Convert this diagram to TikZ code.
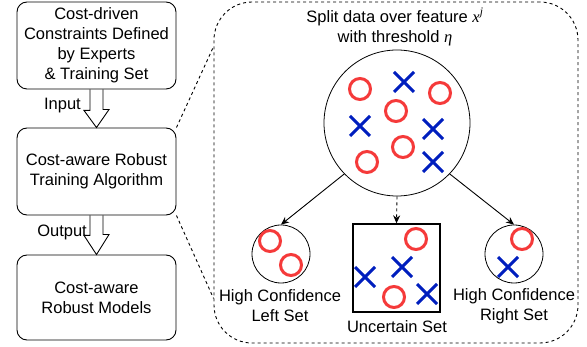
\documentclass[tikz,border=0pt]{standalone}
\usepackage{fontspec}
\setmainfont{Liberation Sans}
\newfontfamily\tserif{Liberation Serif}
\usetikzlibrary{arrows.meta}
\definecolor{mred}{RGB}{245,58,58}
\definecolor{mblue}{RGB}{0,30,190}
\tikzset{
  txt/.style={font=\fontsize{16.5}{20}\selectfont, align=center, inner sep=0pt},
  lbox/.style={draw, rounded corners=10pt, line width=0.9pt, minimum width=159pt, inner sep=0pt, txt},
  hollow/.style={draw, line width=0.9pt, line join=miter},
  zdash/.style={draw, line width=0.9pt, dash pattern=on 3pt off 3pt},
  arr/.style={line width=0.9pt, -{Stealth[length=8pt,width=7pt]}},
  ro/.pic={\draw[mred, line width=3pt] (0,0) circle (10.5pt);},
  bx/.pic={\draw[mblue, line width=3pt] (-10,-10) -- (10,10) (-10,10) -- (10,-10);},
}
\begin{document}
\begin{tikzpicture}[x=1pt,y=-1pt]
\useasboundingbox (0,0) rectangle (587,347);
% left column
\node[lbox, minimum height=87pt] (b1) at (96.5,45.5) {Cost-driven\\Constraints Defined\\by Experts\\\& Training Set};
\node[lbox, minimum height=87pt] (b2) at (96.5,171.5) {Cost-aware Robust\\Training Algorithm};
\node[lbox, minimum height=85pt] (b3) at (96.5,297.5) {Cost-aware\\Robust Models};
% hollow arrows
\draw[hollow] ([xshift=-6.5pt]b1.south) -- ++(0,21) -- ++(-6,0) -- (b2.north) -- ++(12.5,-18) -- ++(-6,0) -- ([xshift=6.5pt]b1.south);
\draw[hollow] ([xshift=-6.5pt]b2.south) -- ++(0,20) -- ++(-6,0) -- (b3.north) -- ++(12.5,-20) -- ++(-6,0) -- ([xshift=6.5pt]b2.south);
\node[txt, anchor=east] (lin) at (81,106) {Input};
\node[txt, anchor=east] (lout) at (87,232) {Output};
% zoom box
\node[zdash, rounded corners=38pt, minimum width=364pt, minimum height=341pt, inner sep=0pt] (zoom) at (396,172.5) {};
\draw[zdash] (b2.north east) -- ([yshift=-45pt]zoom.north west);
\draw[zdash] (b2.south east) -- ([yshift=45pt]zoom.south west);
\node[txt] (title) at (395,27) {Split data over feature {\tserif\itshape x\textsuperscript{j}}\\with threshold {\tserif\itshape η}};
% big circle
\node[draw, circle, line width=0.8pt, minimum size=146pt, inner sep=0pt] (big) at (397,123) {};
\pic at (360,89) {ro};
\pic at (404,82) {bx};
\pic at (440,93) {ro};
\pic at (396,111) {ro};
\pic at (360,126) {bx};
\pic at (433,129) {bx};
\pic at (403,147) {ro};
\pic at (367,162) {ro};
\pic at (433,162) {bx};
% children
\node[draw, circle, line width=0.8pt, minimum size=58pt, inner sep=0pt] (left) at (281,254) {};
\pic at (270,241) {ro};
\pic at (291,265) {ro};
\node[draw, line width=1.3pt, minimum width=87pt, minimum height=88pt, inner sep=0pt] (unc) at (396.5,268) {};
\pic at (416,239) {ro};
\pic at (402,267) {bx};
\pic at (365,277) {bx};
\pic at (394,297) {ro};
\pic at (427,294) {bx};
\node[draw, circle, line width=0.8pt, minimum size=58pt, inner sep=0pt] (right) at (514,254) {};
\pic at (522,239) {ro};
\pic at (508,267) {bx};
% arrows
\draw[arr] (big.224) -- (left.north);
\draw[arr] (big.316) -- (right.north);
\draw[arr, dash pattern=on 3pt off 3pt] (big.south) -- (unc.north);
% labels
\node[txt] (ll) at (280,306) {High Confidence\\Left Set};
\node[txt] (ul) at (397,327) {Uncertain Set};
\node[txt] (rl) at (514,306) {High Confidence\\Right Set};
\end{tikzpicture}
\end{document}
